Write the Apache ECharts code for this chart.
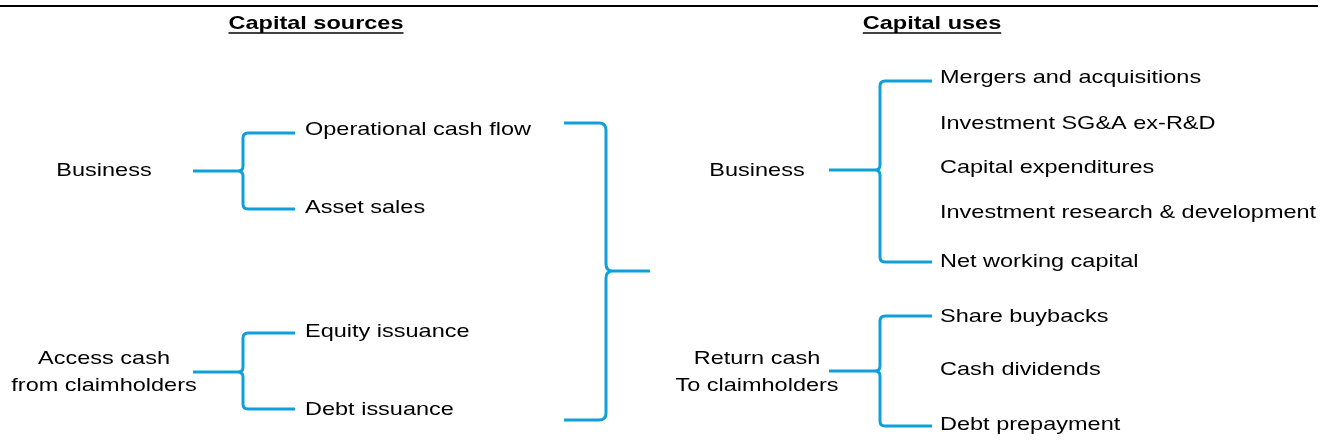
<!DOCTYPE html>
<html>
<head>
<meta charset="utf-8">
<script src="https://cdn.jsdelivr.net/npm/echarts@6/dist/echarts.min.js"></script>
<style>
html, body { margin: 0; padding: 0; background: #fff; }
#chart { width: 1321px; height: 447px; }
</style>
</head>
<body>
<div id="chart"></div>
<script>
// diagram content
var headers = ['Capital sources', 'Capital uses'];
var sourceGroups = ['Business', 'Access cash\nfrom claimholders'];
var sourceItems = [
    ['Operational cash flow', 'Asset sales'],
    ['Equity issuance', 'Debt issuance']
];
var useGroups = ['Business', 'Return cash\nTo claimholders'];
var useItems = [
    ['Mergers and acquisitions', 'Investment SG&A ex-R&D', 'Capital expenditures',
     'Investment research & development', 'Net working capital'],
    ['Share buybacks', 'Cash dividends', 'Debt prepayment']
];

// layout, in the pixel space of the hidden axes
var W = 1321, H = 447;
var BLUE = '#0fa0dc';
var FONT = '"Liberation Sans", Arial, sans-serif';
var FS = 18.5;
var SX = 1.27;

var headerX = [316, 932];
var headerY = 24;
var groupX = [104, 757];
var itemX = [305, 940];
var groupY = [171, 372];
var sourceItemY = [[130, 208], [332, 410]];
var useItemY = [[78, 124, 168, 213, 262], [317, 370, 425]];

// brace: stem x, vertical x, arm x, top y, middle y, bottom y, corner radius
var braces = [
    [193, 243, 295, 133, 171, 209, 5],
    [193, 243, 295, 333, 372, 409, 5],
    [650, 606, 564, 123, 271, 420, 7],
    [829, 880, 932, 81, 170, 262, 5],
    [829, 880, 932, 316, 371, 426, 5]
];

var texts = [];
headers.forEach(function (t, i) {
    texts.push({ value: [headerX[i], headerY], text: t, align: 'center', bold: true });
});
sourceGroups.forEach(function (t, i) {
    texts.push({ value: [groupX[0], groupY[i]], text: t, align: 'center' });
    sourceItems[i].forEach(function (s, j) {
        texts.push({ value: [itemX[0], sourceItemY[i][j]], text: s, align: 'left' });
    });
});
useGroups.forEach(function (t, i) {
    texts.push({ value: [groupX[1], groupY[i]], text: t, align: 'center' });
    useItems[i].forEach(function (s, j) {
        texts.push({ value: [itemX[1], useItemY[i][j]], text: s, align: 'left' });
    });
});

// header underlines sized from the text
var ctx = document.createElement('canvas').getContext('2d');
ctx.font = 'bold ' + FS + 'px ' + FONT;
var rules = [[0, 6, 1318, 6, 2]];
headers.forEach(function (t, i) {
    var w = ctx.measureText(t).width * SX;
    rules.push([headerX[i] - w / 2, 33, headerX[i] + w / 2, 33, 1.6]);
});

var myChart = echarts.init(document.getElementById('chart'));

option = {
    animation: false,
    grid: { left: 0, right: 0, top: 0, bottom: 0 },
    xAxis: { type: 'value', min: 0, max: W, show: false },
    yAxis: { type: 'value', min: 0, max: H, inverse: true, show: false },
    series: [{
        type: 'custom',
        data: rules,
        renderItem: function (params, api) {
            var a = api.coord([api.value(0), api.value(1)]);
            var b = api.coord([api.value(2), api.value(3)]);
            return {
                type: 'line',
                shape: { x1: a[0], y1: a[1], x2: b[0], y2: b[1] },
                style: { stroke: '#000', lineWidth: api.value(4) }
            };
        }
    }, {
        type: 'custom',
        data: braces,
        renderItem: function (params, api) {
            var x0 = api.value(0), xv = api.value(1), xa = api.value(2);
            var yt = api.value(3), ym = api.value(4), yb = api.value(5), r = api.value(6);
            var s = xa > xv ? 1 : -1;
            function P(x, y) { var c = api.coord([x, y]); return c[0] + ',' + c[1]; }
            var d = 'M' + P(xa, yt) + 'L' + P(xv + s * r, yt) + 'Q' + P(xv, yt) + ' ' + P(xv, yt + r) +
                'L' + P(xv, ym - r) + 'Q' + P(xv, ym) + ' ' + P(xv - s * r, ym) + 'L' + P(x0, ym) +
                'M' + P(xa, yb) + 'L' + P(xv + s * r, yb) + 'Q' + P(xv, yb) + ' ' + P(xv, yb - r) +
                'L' + P(xv, ym + r) + 'Q' + P(xv, ym) + ' ' + P(xv - s * r, ym);
            return {
                type: 'path',
                shape: { pathData: d },
                style: { stroke: BLUE, fill: 'none', lineWidth: 3, lineJoin: 'round' }
            };
        }
    }, {
        type: 'custom',
        data: texts,
        renderItem: function (params, api) {
            var t = texts[params.dataIndex];
            var p = api.coord([api.value(0), api.value(1)]);
            return {
                type: 'text',
                x: p[0],
                y: p[1],
                scaleX: SX,
                style: {
                    text: t.text,
                    font: (t.bold ? 'bold ' : '') + FS + 'px ' + FONT,
                    fill: '#000',
                    align: t.align,
                    textAlign: t.align,
                    verticalAlign: 'middle',
                    textVerticalAlign: 'middle',
                    lineHeight: 27
                }
            };
        }
    }]
};

if (option && typeof option === "object") {
    myChart.setOption(option, true);
}
</script>
</body>
</html>
